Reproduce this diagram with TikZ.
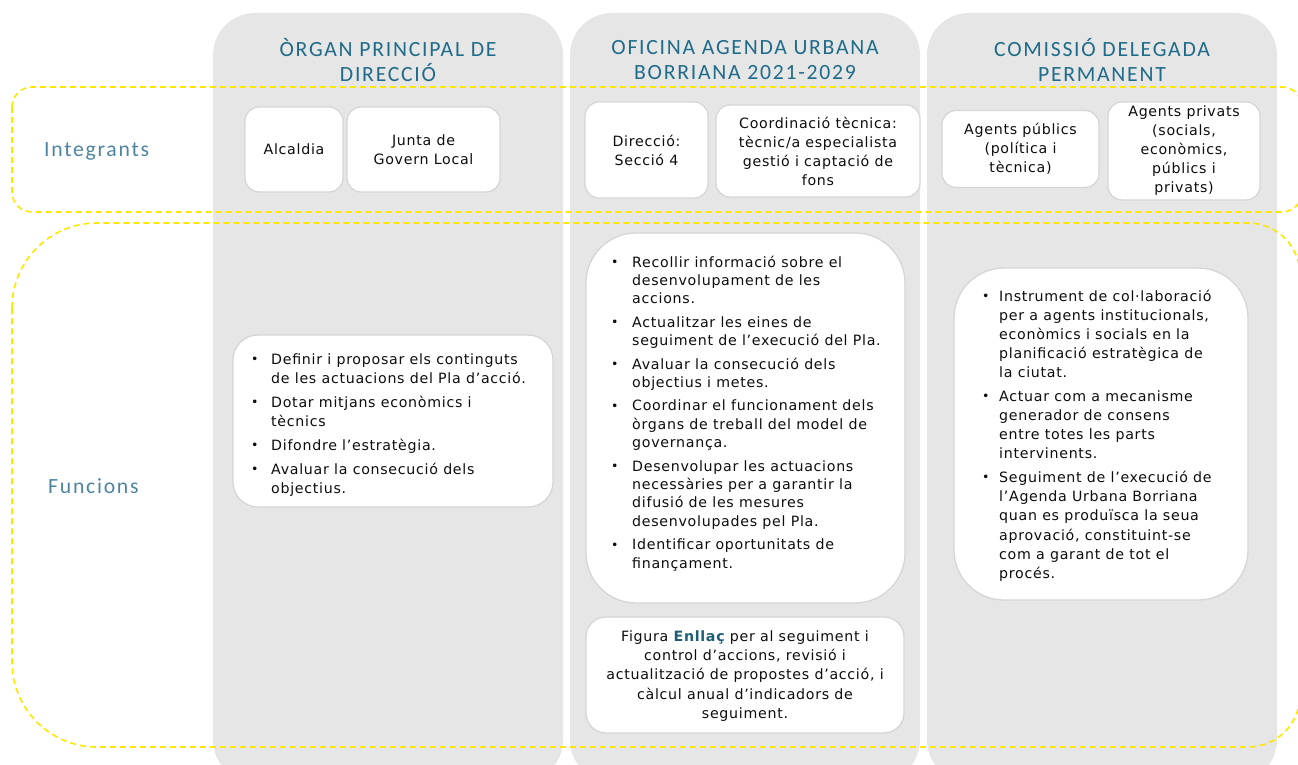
\documentclass[tikz,border=0pt]{standalone}
\usepackage{fontspec}
\setmainfont{DejaVu Sans}
\newfontfamily\bodyfont[LetterSpace=5]{DejaVu Sans}
\newfontfamily\headfont[LetterSpace=8]{Carlito}
\newfontfamily\bulletfont{DejaVu Sans}
\definecolor{colgray}{HTML}{E6E6E6}
\definecolor{boxline}{HTML}{D6D6D6}
\definecolor{ydash}{HTML}{FFE600}
\definecolor{headc}{HTML}{1F6B8A}
\definecolor{labc}{HTML}{4D84A0}
\definecolor{bodytext}{HTML}{0D0D0D}
\definecolor{enllac}{HTML}{1F5E78}
\newcommand{\bul}{{\bulletfont\fontsize{12.5}{12}\selectfont\raisebox{0.6pt}{•}}}
\begin{document}
\begin{tikzpicture}[x=1pt,y=-1pt,
  yellowdash/.style={draw=ydash, line width=1.6pt, dash pattern=on 6pt off 4pt},
  wbox/.style={draw=boxline, line width=1.3pt, fill=white, inner sep=0pt, align=center,
     text=bodytext, font=\bodyfont\fontsize{14.2}{19}\selectfont},
  head/.style={font=\headfont\fontsize{21.7}{25}\selectfont, text=headc, align=center, inner sep=0pt},
  rowlabel/.style={font=\headfont\fontsize{21.7}{25}\selectfont, text=labc, anchor=base west, inner sep=0pt},
  btext/.style={anchor=base west, inner sep=0pt, text=bodytext},
]
\useasboundingbox (0,0) rectangle (1298,765);
\clip (0,0) rectangle (1298,765);

% columns
\fill[colgray, rounded corners=42pt] (213,13) rectangle (563,782);
\fill[colgray, rounded corners=42pt] (570,13) rectangle (920,782);
\fill[colgray, rounded corners=42pt] (927,13) rectangle (1277,782);

% dashed row frames
\draw[yellowdash, rounded corners=20pt] (12,87) rectangle (1302,212);
\draw[yellowdash] (12,308) arc[start angle=180, end angle=270, radius=85]
  -- (1248,223) arc[start angle=270, end angle=360, radius=52]
  -- (1300,695) arc[start angle=0, end angle=90, radius=52]
  -- (97,747) arc[start angle=90, end angle=180, radius=85] -- cycle;

% headers
\node[head] (h1) at (388,60) {ÒRGAN PRINCIPAL DE\\DIRECCIÓ};
\node[head] (h2) at (745,60) {OFICINA AGENDA URBANA\\BORRIANA 2021-2029};
\node[head] (h3) at (1102,60) {COMISSIÓ DELEGADA\\PERMANENT};

% row labels
\node[rowlabel] (lint) at (44,157) {Integrants};
\node[rowlabel] (lfun) at (48,493) {Funcions};

% integrants
\node[wbox, rounded corners=14pt, minimum width=98pt, minimum height=85pt] (alc) at (294,149.5) {Alcaldia};
\node[wbox, rounded corners=14pt, minimum width=153pt, minimum height=85pt] (junta) at (423.5,149.5) {Junta de\\Govern Local};
\node[wbox, rounded corners=14pt, minimum width=123pt, minimum height=96pt] (dir) at (646.5,150) {Direcció:\\Secció 4};
\node[wbox, rounded corners=14pt, minimum width=204pt, minimum height=92pt] (coord) at (818,151) {Coordinació tècnica:\\tècnic/a especialista\\gestió i captació de\\fons};
\node[wbox, rounded corners=14pt, minimum width=157pt, minimum height=77pt] (pub) at (1020.5,149) {Agents públics\\(política i\\tècnica)};
\node[wbox, rounded corners=14pt, minimum width=152pt, minimum height=98pt] (priv) at (1184,151) {Agents privats\\(socials,\\econòmics,\\públics i\\privats)};

% function boxes
\node[wbox, rounded corners=25pt, minimum width=320pt, minimum height=172pt] (f1) at (393,421) {};
\node[wbox, rounded corners=50pt, minimum width=319pt, minimum height=370pt] (f2) at (745.5,418) {};
\node[wbox, rounded corners=20pt, minimum width=318pt, minimum height=116pt] (fig) at (745,675) {};
\node[wbox, rounded corners=50pt, minimum width=294pt, minimum height=332pt] (f3) at (1101,434) {};

% function texts
\node[btext, font=\bodyfont\fontsize{14.2}{19}\selectfont] (f1t) at (251,364) {\begin{tabular}[t]{@{}p{20pt}@{}l@{}}
\bul & Definir i proposar els continguts\\
 & de les actuacions del Pla d’acció.\\[5pt]
\bul & Dotar mitjans econòmics i\\
 & tècnics\\[5pt]
\bul & Difondre l’estratègia.\\[5pt]
\bul & Avaluar la consecució dels\\
 & objectius.
\end{tabular}};

\node[btext, font=\bodyfont\fontsize{14.2}{18.4}\selectfont] (f2t) at (611,267) {\begin{tabular}[t]{@{}p{21pt}@{}l@{}}
\bul & Recollir informació sobre el\\
 & desenvolupament de les\\
 & accions.\\[5pt]
\bul & Actualitzar les eines de\\
 & seguiment de l’execució del Pla.\\[5pt]
\bul & Avaluar la consecució dels\\
 & objectius i metes.\\[5pt]
\bul & Coordinar el funcionament dels\\
 & òrgans de treball del model de\\
 & governança.\\[5pt]
\bul & Desenvolupar les actuacions\\
 & necessàries per a garantir la\\
 & difusió de les mesures\\
 & desenvolupades pel Pla.\\[5pt]
\bul & Identificar oportunitats de\\
 & finançament.
\end{tabular}};

\node[wbox, draw=none, fill=none, font=\bodyfont\fontsize{14.2}{19.2}\selectfont] (figt) at (745,676) {Figura {\bfseries\color{enllac}Enllaç} per al seguiment i\\control d’accions, revisió i\\actualització de propostes d’acció, i\\càlcul anual d’indicadors de\\seguiment.};

\node[btext, font=\bodyfont\fontsize{14.2}{19.2}\selectfont] (f3t) at (982,301) {\begin{tabular}[t]{@{}p{17pt}@{}l@{}}
\bul & Instrument de col·laboració\\
 & per a agents institucionals,\\
 & econòmics i socials en la\\
 & planificació estratègica de\\
 & la ciutat.\\[4.3pt]
\bul & Actuar com a mecanisme\\
 & generador de consens\\
 & entre totes les parts\\
 & intervinents.\\[4.3pt]
\bul & Seguiment de l’execució de\\
 & l’Agenda Urbana Borriana\\
 & quan es produïsca la seua\\
 & aprovació, constituint-se\\
 & com a garant de tot el\\
 & procés.
\end{tabular}};
\end{tikzpicture}
\end{document}
